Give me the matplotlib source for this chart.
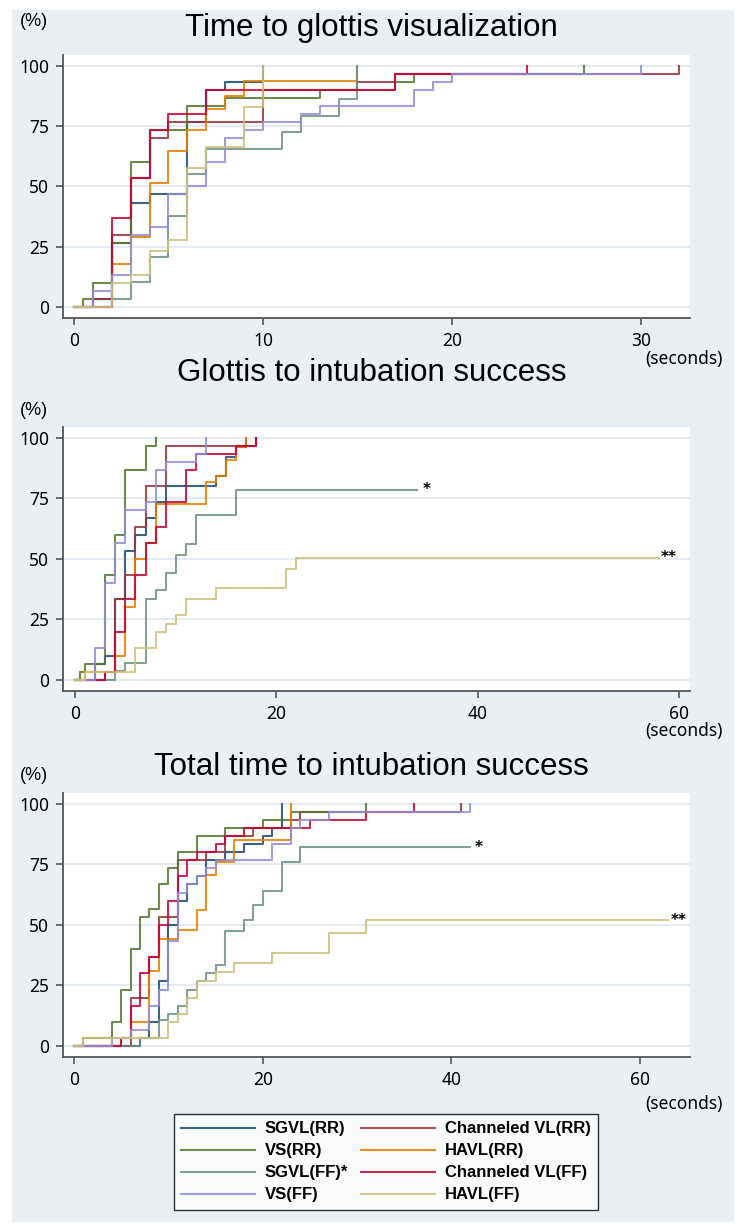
import matplotlib
matplotlib.use("Agg")
import matplotlib.pyplot as plt
from matplotlib.patches import Rectangle

# ---- data: (seconds, cumulative %) ----
# panel 1: time to glottis visualization
vis_sgvl_rr = [(0, 0), (1, 3.3), (2, 26.7), (3, 43.3), (4, 46.7), (6, 76.7), (7, 90), (8, 93.3), (10, 100)]
vis_chan_rr = [(0, 0), (1, 3.3), (2, 30), (3, 53.3), (4, 70), (5, 76.7), (10, 90), (15, 93.3), (17, 96.7), (32, 100)]
vis_vs_rr = [(0, 0), (0.5, 3.3), (1, 10), (2, 26.7), (3, 60), (4, 73.3), (6, 83.3), (8, 86.7), (13, 90), (17, 93.3), (18, 96.7), (27, 100)]
vis_havl_rr = [(0, 0), (2, 17.9), (3, 29), (4, 51.2), (5, 64.5), (6, 73.3), (7, 82), (8, 87.5), (9, 93.8), (15, 100)]
vis_sgvl_ff = [(0, 0), (2, 3.4), (3, 10.3), (4, 20.7), (5, 37.9), (6, 55.2), (7, 65.5), (11, 72.4), (12, 79.3), (14, 86.2), (15, 100)]
vis_chan_ff = [(0, 0), (2, 36.7), (3, 53.3), (4, 73.3), (5, 80), (7, 90), (17, 96.7), (24, 100)]
vis_vs_ff = [(0, 0), (1, 6.7), (2, 13.3), (3, 30), (4, 33.3), (5, 46.7), (6, 50), (7, 60), (8, 70), (9, 73.3), (10, 76.7),
             (12, 80), (13, 83.3), (18, 90), (19, 93.3), (20, 96.7), (30, 100)]
vis_havl_ff = [(0, 0), (2, 10), (3, 13.3), (4, 23.3), (5, 28), (6, 57.8), (7, 66.3), (9, 83), (10, 100)]

# panel 2: glottis to intubation success
g2i_sgvl_rr = [(0, 0), (2, 6.7), (3, 10), (4, 33.3), (5, 53.3), (6, 60), (7, 66.7), (8, 73.3), (9, 80), (14, 84), (15, 92), (16, 96), (17, 100)]
g2i_chan_rr = [(0, 0), (3, 3.3), (4, 33.3), (5, 43.3), (6, 63.3), (7, 80), (9, 96.7), (18, 100)]
g2i_vs_rr = [(0, 0), (0.5, 3.3), (1, 6.7), (3, 43.3), (4, 60), (5, 86.7), (7, 96.7), (8, 100)]
g2i_havl_rr = [(0, 0), (1, 3.3), (4, 10), (5, 30), (6, 50), (7, 56.7), (8, 72.7), (13, 81.8), (14, 84), (15, 90.9), (16, 96), (17, 100)]
g2i_sgvl_ff = [(0, 0), (4, 3.6), (5, 7.1), (7, 33.5), (8, 37), (9, 44), (10, 51.5), (11, 56), (12, 68), (16, 78.5), (34, 78.5)]
g2i_chan_ff = [(0, 0), (3, 3.3), (4, 20), (5, 33.3), (6, 43.3), (7, 56.7), (8, 63.3), (9, 73.3), (11, 86.7), (12, 93.3), (16, 96.7), (18, 100)]
g2i_vs_ff = [(0, 0), (2, 13.3), (3, 40), (4, 56.7), (5, 70), (7, 73.3), (8, 86.7), (9, 90), (12, 93.3), (13, 100)]
g2i_havl_ff = [(0, 0), (1, 3.3), (6, 13.3), (8, 20), (9, 23.3), (10, 26.7), (11, 33.3), (14, 37.9), (21, 46), (22, 50.5), (58, 50.5)]

# panel 3: total time to intubation success
tot_sgvl_rr = [(0, 0), (7, 3.3), (8, 10), (9, 26.7), (10, 50), (11, 60), (12, 66.7), (13, 70), (14, 76.7), (16, 80), (18, 83.3),
               (20, 86.7), (21, 90), (22, 100)]
tot_chan_rr = [(0, 0), (6, 20), (8, 36.7), (9, 53.3), (11, 76.7), (14, 80), (16, 86.7), (19, 90), (23, 93.3), (24, 96.7), (41, 100)]
tot_vs_rr = [(0, 0), (1, 3.3), (4, 10), (5, 23.3), (6, 40), (7, 53.3), (8, 56.7), (9, 66.7), (10, 73.3), (11, 80), (13, 86.7),
             (16, 90), (20, 93.3), (23, 96.7), (31, 100)]
tot_havl_rr = [(0, 0), (5, 3.3), (6, 10), (8, 30.8), (9, 44), (11, 48), (13, 56), (14, 70.7), (15, 75.8), (17, 85), (23, 100)]
tot_sgvl_ff = [(0, 0), (7, 3.3), (9, 10.7), (10, 13.4), (11, 16.4), (12, 23), (13, 27), (14, 30), (15, 33.5), (16, 47.5),
               (18, 52), (19, 58), (20, 64), (22, 76), (24, 82), (42, 82)]
tot_chan_ff = [(0, 0), (5, 3.3), (6, 16.7), (7, 30), (8, 36.7), (9, 50), (10, 60), (11, 70), (12, 76.7), (13, 80), (15, 83.3),
               (16, 86.7), (18, 90), (25, 93.3), (31, 96.7), (36, 100)]
tot_vs_ff = [(0, 0), (4, 3.3), (6, 6.7), (8, 16.7), (9, 23.3), (10, 43.3), (11, 63.3), (12, 66.7), (13, 70), (14, 73.3),
             (15, 76.7), (21, 83.3), (23, 90), (24, 93.3), (27, 96.7), (42, 100)]
tot_havl_ff = [(0, 0), (1, 3.3), (10, 10), (11, 13.3), (12, 20), (13, 26.7), (15, 30.5), (17, 34.2), (21, 38.5), (27, 46.5),
               (31, 52), (63, 52)]

labels = ["SGVL(RR)", "Channeled VL(RR)", "VS(RR)", "HAVL(RR)",
          "SGVL(FF)*", "Channeled VL(FF)", "VS(FF)", "HAVL(FF)"]
colors = ["#1a476f", "#90353b", "#55752f", "#e37e00",
          "#6e8e84", "#c10534", "#938dd2", "#cac27e"]

panels = [
    ("Time to glottis visualization",
     [vis_sgvl_rr, vis_chan_rr, vis_vs_rr, vis_havl_rr, vis_sgvl_ff, vis_chan_ff, vis_vs_ff, vis_havl_ff],
     [0, 10, 20, 30], (-0.58, 32.6), []),
    ("Glottis to intubation success",
     [g2i_sgvl_rr, g2i_chan_rr, g2i_vs_rr, g2i_havl_rr, g2i_sgvl_ff, g2i_chan_ff, g2i_vs_ff, g2i_havl_ff],
     [0, 20, 40, 60], (-1.2, 61.1), [(34.5, 78.5, "*"), (58.2, 50.5, "**")]),
    ("Total time to intubation success",
     [tot_sgvl_rr, tot_chan_rr, tot_vs_rr, tot_havl_rr, tot_sgvl_ff, tot_chan_ff, tot_vs_ff, tot_havl_ff],
     [0, 20, 40, 60], (-1.17, 65.3), [(42.5, 82, "*"), (63.2, 52, "**")]),
]

W, H = 748, 1232
fig = plt.figure(figsize=(W / 100, H / 100), dpi=100, facecolor="white")
bg = "#e9eff2"
fig.patches.append(Rectangle((12 / W, 10 / H), (734 - 12) / W, (1222 - 10) / H,
                             transform=fig.transFigure, facecolor=bg, edgecolor="none", zorder=-10))

# axes boxes in pixels: (top, bottom)
boxes = [(55, 318), (427, 691), (793, 1057)]
title_y = [28, 373, 767]
pct_y = [21, 410, 776]
sec_y = [359, 731, 1104]

tick_font = "Noto Sans"
lines = []
for i, (title, series, xt, xl, notes) in enumerate(panels):
    top, bot = boxes[i]
    ax = fig.add_axes([63 / W, 1 - bot / H, (690 - 63) / W, (bot - top) / H])
    ax.set_facecolor("white")
    for y in [0, 25, 50, 75, 100]:
        ax.axhline(y, color="#e4ebf0", lw=1.4, zorder=0)
    for s, c in zip(series, colors):
        t = [p[0] for p in s]
        v = [p[1] for p in s]
        ln, = ax.step(t, v, where="post", color=c, lw=1.5, alpha=0.85)
        if i == 0:
            lines.append(ln)
    for x, y, txt in notes:
        ax.text(x, y, txt, fontsize=11, fontweight="bold", va="center", ha="left", color="black")
    ax.set_xlim(*xl)
    ax.set_ylim(-4.5, 104.4)
    ax.set_xticks(xt)
    ax.set_yticks([0, 25, 50, 75, 100])
    for sp in ["top", "right"]:
        ax.spines[sp].set_visible(False)
    for sp in ["left", "bottom"]:
        ax.spines[sp].set_color("#555555")
        ax.spines[sp].set_linewidth(1.3)
    ax.tick_params(direction="out", length=5, width=1.2, color="#555555", labelsize=12.5, pad=5)
    for lab in ax.get_xticklabels() + ax.get_yticklabels():
        lab.set_fontfamily(tick_font)
    fig.text(0.497, 1 - title_y[i] / H, title, ha="center", va="center",
             fontsize=22.5, family="Liberation Sans")
    fig.text(34 / W, 1 - pct_y[i] / H, "(%)", ha="center", va="center",
             fontsize=13, family="Liberation Sans")
    fig.text(684 / W, 1 - sec_y[i] / H, "(seconds)", ha="center", va="center",
             fontsize=12.5, family=tick_font)

order = [0, 2, 4, 6, 1, 3, 5, 7]
leg = fig.legend([lines[k] for k in order], [labels[k] for k in order], ncol=2,
                 loc="center", bbox_to_anchor=(386 / W, 1 - 1162 / H),
                 frameon=True, fancybox=False, edgecolor="black", facecolor="white",
                 handlelength=4.4, handletextpad=0.6, columnspacing=0.8, labelspacing=0.42,
                 borderpad=0.45, prop={"family": "Liberation Sans", "weight": "bold", "size": 12})
leg.get_frame().set_linewidth(1.0)

fig.savefig("out.png", dpi=100, facecolor="white")
